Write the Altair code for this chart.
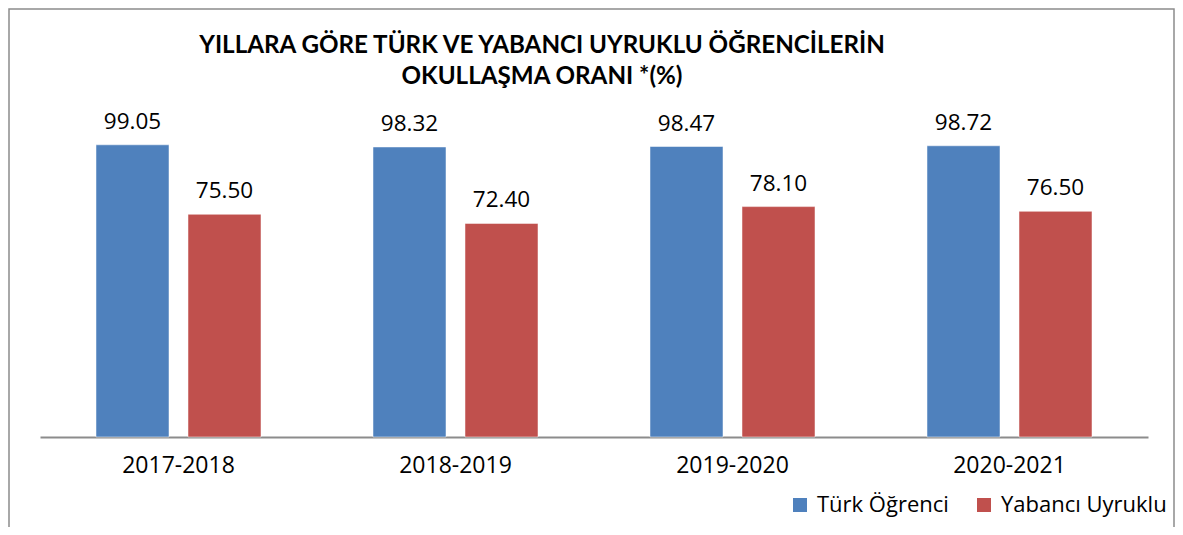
import altair as alt
import pandas as pd

years = ["2017-2018", "2018-2019", "2019-2020", "2020-2021"]
turk = [99.05, 98.32, 98.47, 98.72]
yabanci = [75.50, 72.40, 78.10, 76.50]
series = ["Türk Öğrenci", "Yabancı Uyruklu"]
colors = ["#4F81BD", "#C0504D"]
title_lines = ["YILLARA GÖRE TÜRK VE YABANCI UYRUKLU ÖĞRENCİLERİN", "OKULLAŞMA ORANI *(%)"]

rows = []
for i, y in enumerate(years):
    rows.append({"year": y, "series": series[0], "value": turk[i]})
    rows.append({"year": y, "series": series[1], "value": yabanci[i]})
df = pd.DataFrame(rows)

FONT = "Open Sans"
TFONT = "Lato"
W, H = 1108, 295

x_enc = alt.X("year:N", sort=years, title=None,
              scale=alt.Scale(paddingInner=0, paddingOuter=0),
              axis=alt.Axis(labelAngle=0, labelFont=FONT, labelFontSize=23, labelColor="#000",
                            ticks=False, domainColor="#8c8c8c", domainWidth=2,
                            labelPadding=17))
xo_enc = alt.XOffset("series:N", sort=series,
                     scale=alt.Scale(paddingInner=0.2065, paddingOuter=0.6087))
y_enc = alt.Y("value:Q", scale=alt.Scale(domain=[0, 100]), axis=None)

bars = alt.Chart(df).mark_bar(stroke="white", strokeWidth=0.5).encode(
    x=x_enc, xOffset=xo_enc, y=y_enc,
    color=alt.Color("series:N", sort=series,
                    scale=alt.Scale(domain=series, range=colors),
                    legend=alt.Legend(title=None, orient="none", direction="horizontal",
                                      legendX=749, legendY=352,
                                      symbolType="square", symbolSize=196,
                                      symbolStrokeWidth=0,
                                      labelFont=FONT, labelFontSize=22, labelColor="#000",
                                      columnPadding=24, labelOffset=6, labelLimit=300)),
)

labels = alt.Chart(df).mark_text(font=FONT, fontSize=22.5, baseline="alphabetic", dy=-16,
                                 color="#000").encode(
    x=alt.X("year:N", sort=years), xOffset=alt.XOffset("series:N", sort=series),
    y=alt.Y("value:Q"),
    text=alt.Text("value:Q", format=".2f"),
)

one = pd.DataFrame({"k": [0]})
title = alt.Chart(one).mark_text(text=title_lines, font=TFONT, fontSize=24.2, fontWeight="bold",
                                 color="#000", align="center", baseline="alphabetic",
                                 lineHeight=31).encode(
    x=alt.value(502), y=alt.value(-89)
)

border = alt.Chart(one).mark_rect(fill=None, stroke="#8c8c8c", strokeWidth=1.5).encode(
    x=alt.value(-31), x2=alt.value(W + 26), y=alt.value(-133), y2=alt.value(420)
)

chart = alt.layer(border, bars, labels, title).properties(
    width=W, height=H,
    padding={"left": 32, "top": 134, "right": 27, "bottom": 90},
    autosize=alt.AutoSizeParams(type="none"),
).configure_view(stroke=None)

chart.save("out.html", embed_options={"renderer": "svg", "actions": False})
